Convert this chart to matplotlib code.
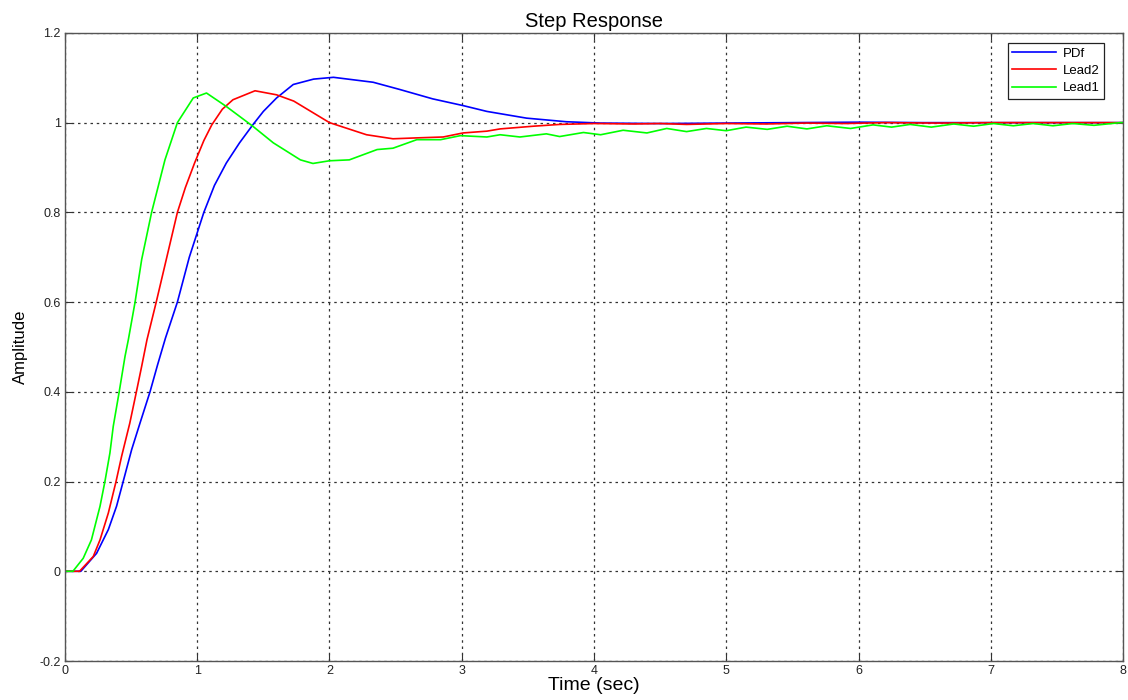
import matplotlib
matplotlib.use("Agg")
import matplotlib.pyplot as plt

# step responses of the three controllers
t_pdf = [0, 0.12, 0.239, 0.328, 0.39, 0.44, 0.504, 0.567, 0.643, 0.70, 0.76,
         0.85, 0.94, 1.05, 1.13, 1.22, 1.32, 1.42, 1.5, 1.6, 1.726, 1.88,
         2.03, 2.33, 2.53, 2.78, 3.01, 3.19, 3.49, 3.79, 4.05, 4.5, 5.0, 5.5,
         6.0, 6.5, 7.0, 7.5, 8.0]
y_pdf = [0, 0, 0.04, 0.093, 0.145, 0.2, 0.271, 0.33, 0.4, 0.46, 0.52,
         0.6, 0.7, 0.8, 0.86, 0.91, 0.955, 0.995, 1.025, 1.055, 1.085, 1.097,
         1.101, 1.090, 1.074, 1.053, 1.038, 1.025, 1.010, 1.002, 0.999, 0.998, 0.999, 1.0,
         1.001, 1.0, 1.0, 1.0, 1.0]

t_lead2 = [0, 0.11, 0.214, 0.265, 0.328, 0.386, 0.428, 0.49, 0.54, 0.58, 0.62,
           0.69, 0.77, 0.85, 0.91, 0.98, 1.05, 1.11, 1.19, 1.27, 1.437, 1.6,
           1.73, 2.0, 2.28, 2.48, 2.66, 2.86, 3.01, 3.19, 3.29, 3.54, 3.74, 4.0,
           4.3, 4.5, 4.7, 5.0, 5.3, 5.6, 5.9, 6.2, 6.6, 7.0, 7.5, 8.0]
y_lead2 = [0, 0, 0.033, 0.07, 0.13, 0.2, 0.256, 0.33, 0.4, 0.457, 0.516,
           0.6, 0.7, 0.8, 0.855, 0.91, 0.96, 0.995, 1.03, 1.051, 1.071, 1.062,
           1.048, 1.0, 0.973, 0.964, 0.966, 0.968, 0.977, 0.981, 0.986, 0.992, 0.996, 0.998,
           0.997, 0.998, 0.996, 0.998, 0.997, 0.999, 0.998, 1.0, 0.999, 1.0, 1.0, 1.0]

t_lead1 = [0, 0.06, 0.138, 0.2, 0.265, 0.302, 0.34, 0.365, 0.41, 0.454, 0.479,
           0.53, 0.58, 0.655, 0.756, 0.85, 0.97, 1.07, 1.22, 1.42, 1.575, 1.78,
           1.875, 2.0, 2.15, 2.36, 2.48, 2.66, 2.84, 2.99, 3.19, 3.29, 3.44,
           3.64, 3.74, 3.92, 4.05, 4.22, 4.40, 4.55, 4.70, 4.85, 5.0, 5.15,
           5.31, 5.46, 5.61, 5.76, 5.94, 6.11, 6.25, 6.39, 6.55, 6.72, 6.87,
           7.02, 7.17, 7.32, 7.47, 7.62, 7.78, 7.98, 8.0]
y_lead1 = [0, 0, 0.029, 0.07, 0.145, 0.2, 0.264, 0.323, 0.4, 0.479, 0.516,
           0.6, 0.695, 0.8, 0.917, 1.0, 1.055, 1.066, 1.036, 0.992, 0.955, 0.917,
           0.909, 0.915, 0.917, 0.940, 0.943, 0.962, 0.962, 0.971, 0.968, 0.973, 0.968,
           0.975, 0.969, 0.978, 0.973, 0.983, 0.977, 0.987, 0.980, 0.987, 0.982, 0.990,
           0.985, 0.992, 0.986, 0.993, 0.987, 0.995, 0.990, 0.996, 0.990, 0.997, 0.992,
           0.998, 0.993, 0.998, 0.993, 0.998, 0.994, 1.0, 1.0]

xticks = [0, 1, 2, 3, 4, 5, 6, 7, 8]
yticks = [-0.2, 0, 0.2, 0.4, 0.6, 0.8, 1, 1.2]
ytick_labels = ["-0.2", "0", "0.2", "0.4", "0.6", "0.8", "1", "1.2"]

plt.rcParams["font.family"] = ["Liberation Sans", "DejaVu Sans"]

fig = plt.figure(figsize=(11.28, 7.0), dpi=100)
ax = fig.add_axes([0.0576, 0.0557, 0.938, 0.8973])

ax.plot(t_pdf, y_pdf, color="#0000ff", lw=1.2, label="PDf")
ax.plot(t_lead2, y_lead2, color="#ff0000", lw=1.2, label="Lead2")
ax.plot(t_lead1, y_lead1, color="#00ff00", lw=1.2, label="Lead1")

ax.set_xlim(0, 8)
ax.set_ylim(-0.2, 1.2)
ax.set_xticks(xticks)
ax.set_yticks(yticks)
ax.set_yticklabels(ytick_labels)
ax.grid(True, linestyle=(0, (2, 3)), color="#333333", lw=0.9)
ax.tick_params(direction="in", top=True, right=True, length=5,
               labelsize=9, colors="#333333", labelcolor="#222222", pad=3)
for s in ax.spines.values():
    s.set_color("#555555")
    s.set_linewidth(1.0)

ax.set_title("Step Response", fontsize=14.5, pad=4)
ax.set_xlabel("Time (sec)", fontsize=14, labelpad=0)
ax.set_ylabel("Amplitude", fontsize=12, labelpad=8)

leg = ax.legend(loc="upper right", bbox_to_anchor=(0.982, 0.984), borderaxespad=0,
                fontsize=9.5, fancybox=False, framealpha=1, edgecolor="#222222",
                handlelength=3.3, handletextpad=0.5, borderpad=0.35, labelspacing=0.38)
leg.get_frame().set_linewidth(0.9)

fig.savefig("out.png", dpi=100)
